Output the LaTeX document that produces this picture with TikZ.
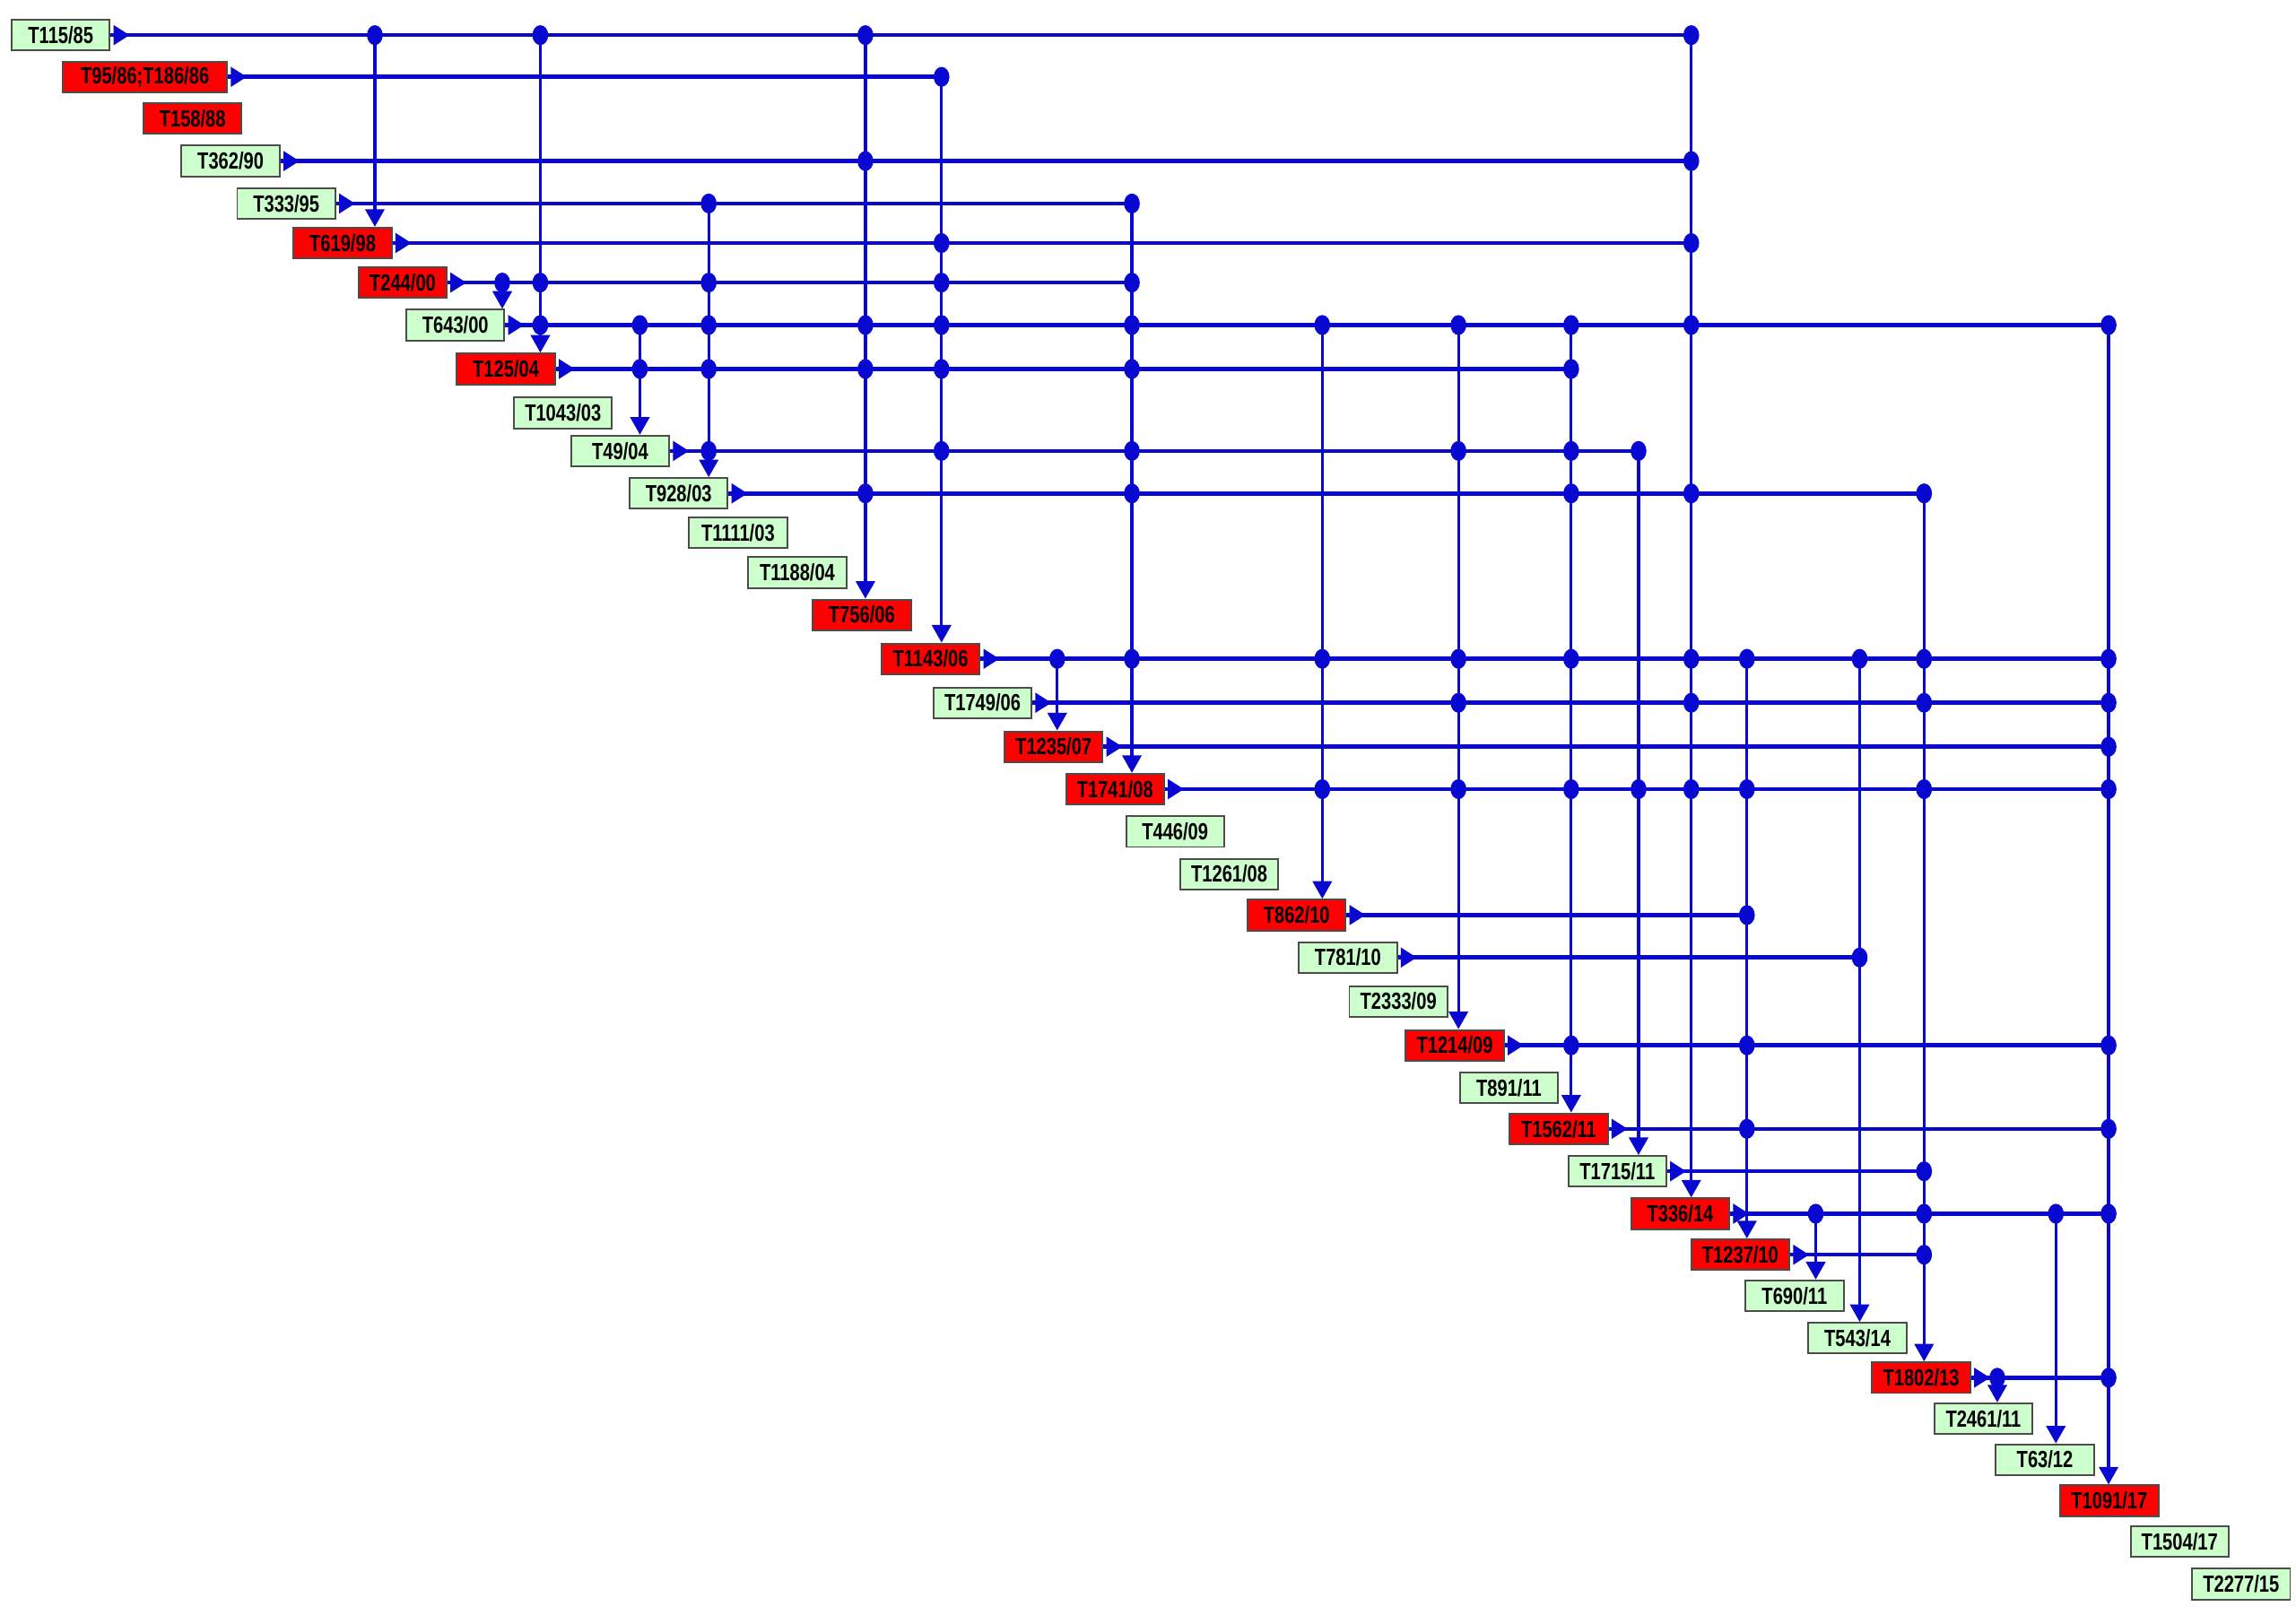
\documentclass[tikz,border=0pt]{standalone}
\usepackage{fontspec}
\newfontfamily\tagfont{Liberation Sans}[FakeStretch=0.77]
\usepackage{tikz}
\usetikzlibrary{arrows.meta}
\usetikzlibrary{decorations.markings}
\definecolor{wire}{RGB}{8,8,208}
\definecolor{mint}{RGB}{204,255,204}
\definecolor{hot}{RGB}{255,0,0}

\begin{document}
\begin{tikzpicture}[
    x=0.5pt, y=-0.5pt, % picture laid out on a pixel grid
    ]
% -------------------------------------------------
\tikzset{
  base/.style={draw=black!70, line width=0.6pt, rectangle, inner sep=0pt,
    minimum width=33.5pt, minimum height=10.5pt,
    font=\tagfont\bfseries\fontsize{8}{9}\selectfont},
  ok/.style={base, fill=mint},
  bad/.style={base, fill=hot},
  feed/.style={draw, color=wire, line width=1.4pt, postaction={decorate},
    decoration={markings, mark=at position 6.5pt with {\arrow{Triangle[length=5.5pt,width=6.5pt]}}}},
  drop/.style={draw, color=wire, line width=1pt, -{Triangle[length=6pt,width=6.5pt]}},
  jn/.style={fill=wire}
}
\useasboundingbox (0,0) rectangle (1568,1109);
% -------------------------------------------------
% Placing the nodes

\node [ok] (t115) at (41.5,24) {T115/85};
\node [bad, minimum width=56pt] (t95) at (99,52.5) {T95/86;T186/86};
\node [bad] (t158) at (131.5,81) {T158/88};
\node [ok] (t362) at (157.5,110) {T362/90};
\node [ok] (t333) at (195.5,139) {T333/95};
\node [bad] (t619) at (234,166) {T619/98};
\node [bad, minimum width=30pt] (t244) at (275,193) {T244/00};
\node [ok] (t643) at (311,222) {T643/00};
\node [bad] (t125) at (345.5,252) {T125/04};
\node [ok] (t1043) at (384.5,282) {T1043/03};
\node [ok] (t49) at (423.5,308) {T49/04};
\node [ok] (t928) at (463.5,337) {T928/03};
\node [ok] (t1111) at (504,364) {T1111/03};
\node [ok] (t1188) at (544.5,391) {T1188/04};
\node [bad] (t756) at (588.5,420) {T756/06};
\node [bad] (t1143) at (635.5,450) {T1143/06};
\node [ok] (t1749) at (671,480) {T1749/06};
\node [bad] (t1235) at (719.5,510) {T1235/07};
\node [bad] (t1741) at (761.5,539) {T1741/08};
\node [ok] (t446) at (802.5,568) {T446/09};
\node [ok] (t1261) at (839.5,597) {T1261/08};
\node [bad] (t862) at (885.5,625) {T862/10};
\node [ok] (t781) at (920.5,654) {T781/10};
\node [ok] (t2333) at (955,684) {T2333/09};
\node [bad] (t1214) at (993.5,714) {T1214/09};
\node [ok] (t891) at (1030.5,743) {T891/11};
\node [bad] (t1562) at (1064.5,771) {T1562/11};
\node [ok] (t1715) at (1104.5,800) {T1715/11};
\node [bad] (t336) at (1147.5,829) {T336/14};
\node [bad] (t1237) at (1188.5,857) {T1237/10};
\node [ok] (t690) at (1225.5,885) {T690/11};
\node [ok] (t543) at (1268.5,914) {T543/14};
\node [bad] (t1802) at (1312,941) {T1802/13};
\node [ok] (t2461) at (1354.5,969) {T2461/11};
\node [ok] (t63) at (1396.5,997) {T63/12};
\node [bad] (t1091) at (1440.5,1025) {T1091/17};
\node [ok] (t1504) at (1488.5,1053) {T1504/17};
\node [ok] (t2277) at (1530.5,1082) {T2277/15};

% one column per cited decision
\foreach \n/\x in {619/256, 643/343, 125/369, 49/437, 928/484, 756/591,
    1143/643, 1235/722, 1741/773, 862/903, 1214/996, 1562/1073, 1715/1119,
    336/1155, 1237/1193, 690/1240, 543/1270, 1802/1314, 2461/1364, 63/1404, 1091/1440}
  \coordinate (k\n) at (\x,0);

% columns down to their node
\foreach \n/\top in {619/115, 643/244, 125/115, 49/643, 928/333, 756/115,
    1143/95, 1235/1143, 1741/333, 862/643, 1214/643, 1562/643, 1715/49,
    336/115, 1237/1143, 690/336, 543/1143, 1802/928, 2461/1802, 63/336, 1091/643}
  \draw [drop] (k\n |- t\top) -- (k\n |- t\n.north);

% rows out of each node
\foreach \s/\e in {115/336, 95/1143, 362/336, 333/1741, 619/336, 244/1741,
    643/1091, 125/1562, 49/1715, 928/1802, 1143/1091, 1749/1091, 1235/1091,
    1741/1091, 862/1237, 781/543, 1214/1091, 1562/1091, 1715/1802, 336/1091,
    1237/1802, 1802/1091}
  \draw [feed] (t\s.east) -- (k\e |- t\s);

% junctions
\foreach \n/\srcs in {619/{115}, 643/{244}, 125/{115,244,643}, 49/{643,125},
    928/{333,244,643,125,49}, 756/{115,362,643,125,928},
    1143/{95,619,244,643,125,49}, 1235/{1143},
    1741/{333,244,643,125,49,928,1143}, 862/{643,1143,1741},
    1214/{643,49,1143,1749,1741}, 1562/{643,125,49,928,1143,1741,1214},
    1715/{49,1741}, 336/{115,362,619,643,928,1143,1749,1741},
    1237/{1143,1741,862,1214,1562}, 690/{336}, 543/{1143,781},
    1802/{928,1143,1749,1741,1715,336,1237}, 2461/{1802}, 63/{336},
    1091/{643,1143,1749,1235,1741,1214,1562,336,1802}}
  \foreach \s in \srcs
    \fill [jn] (k\n |- t\s) ellipse [x radius=2.7pt, y radius=3.4pt];

\end{tikzpicture}
\end{document}
